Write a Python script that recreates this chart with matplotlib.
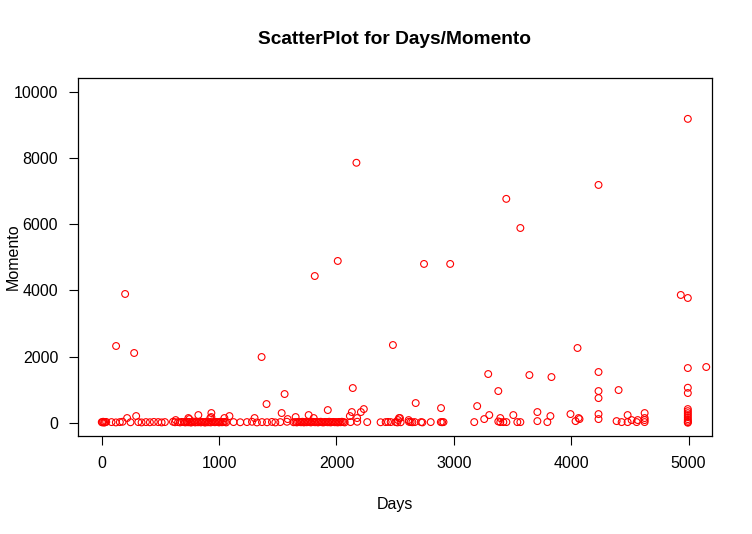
import matplotlib
matplotlib.use("Agg")
import matplotlib.pyplot as plt

# ---- data ----
base_days = [0, 5, 12, 20, 28, 38, 83, 120, 154, 177, 245, 311,
             339, 376, 410, 444, 481, 510, 538, 607, 624, 650, 667, 681,
             700, 712, 724, 736, 748, 760, 772, 784, 796, 808, 820, 832,
             844, 856, 868, 880, 892, 904, 916, 928, 940, 952, 964, 976,
             988, 1000, 1012, 1024, 1036, 1048, 1060, 1123, 1180, 1237, 1280, 1322,
             1365, 1408, 1450, 1479, 1521, 1578, 1635, 1650, 1662, 1674, 1686, 1698,
             1710, 1722, 1734, 1746, 1758, 1770, 1782, 1794, 1806, 1818, 1830, 1842,
             1854, 1866, 1878, 1890, 1902, 1914, 1926, 1938, 1950, 1962, 1974, 1986,
             1998, 2010, 2022, 2034, 2046, 2058, 2070, 2120, 2177, 2262, 2376, 2419,
             2439, 2462, 2504, 2519, 2547, 2618, 2632, 2647, 2667, 2721, 2732, 2803,
             2889, 2900, 2912, 3174, 3379, 3396, 3422, 3448, 3541, 3567, 3712, 3797,
             4037, 4387, 4430, 4481, 4558, 4626, 4994, 4994]
base_mom = [20, 10, 30, 5, 15, 25, 20, 10, 20, 30, 15, 20,
            10, 20, 15, 25, 20, 10, 20, 30, 15, 20, 10, 25,
            20, 10, 30, 15, 25, 5, 20, 35, 10, 20, 15, 30,
            10, 25, 20, 5, 30, 15, 20, 10, 40, 20, 15, 25,
            20, 10, 30, 15, 20, 25, 10, 20, 15, 20, 30, 10,
            20, 15, 25, 10, 20, 30, 15, 20, 10, 25, 20, 15,
            30, 10, 20, 15, 25, 20, 10, 30, 20, 15, 25, 10,
            20, 30, 15, 10, 25, 20, 15, 30, 10, 20, 25, 15,
            20, 10, 25, 15, 30, 20, 10, 20, 30, 20, 15, 20,
            25, 20, 20, 10, 15, 30, 20, 15, 20, 20, 10, 20,
            20, 15, 20, 20, 40, 20, 20, 20, 20, 20, 50, 20,
            50, 50, 20, 20, 20, 20, 20, 0]

high_days = [199, 122, 276, 1362, 1815, 2011, 2170, 2746, 2969, 3447,
             3567, 4233, 4994, 4934, 4994, 2481, 4054, 5151, 4994, 4233,
             3293, 3644, 3832, 4994, 4994, 4233, 4233, 4404, 3379, 1558]
high_mom = [3888, 2317, 2106, 1985, 4430, 4885, 7850, 4795, 4795, 6760,
            5880, 7180, 9175, 3858, 3767, 2347, 2257, 1683, 1652, 1532,
            1471, 1440, 1380, 1057, 897, 957, 745, 987, 957, 867]

mid_days = [2139, 1404, 2675, 3199, 2891, 1926, 2233, 2208, 2131, 2114,
            2176, 1533, 1763, 1806, 1652, 1584, 1088, 934, 934, 925,
            823, 1302, 1045, 293, 216, 746, 630, 738, 3302, 3259,
            3396, 3507, 3712, 3823, 3994, 4063, 4071, 4233, 4233, 4481,
            4515, 4567, 4626, 4626, 4626, 2524, 2541, 2615, 2533, 4994,
            4994, 4994, 4994, 4994, 4994, 4994]
mid_mom = [1048, 565, 595, 503, 443, 383, 413, 323, 323, 202,
           142, 293, 232, 142, 172, 111, 202, 293, 172, 142,
           232, 142, 142, 202, 142, 111, 81, 142, 232, 111,
           142, 232, 323, 202, 262, 142, 111, 262, 111, 232,
           81, 81, 293, 142, 81, 81, 142, 81, 142, 413,
           350, 290, 230, 170, 110, 60]

x_ticks = [0, 1000, 2000, 3000, 4000, 5000]
y_ticks = [0, 2000, 4000, 6000, 8000, 10000]

days = base_days + mid_days + high_days
momento = base_mom + mid_mom + high_mom

plt.rcParams['font.family'] = ['Liberation Sans', 'DejaVu Sans']

W, H = 752, 534
fig = plt.figure(figsize=(W / 100, H / 100), dpi=100)
L, R, T, B = 78.3, 712, 78.3, 436
ax = fig.add_axes([L / W, 1 - B / H, (R - L) / W, (B - T) / H])

ax.scatter(days, momento, s=24, facecolors='none', edgecolors='#ff0000',
           linewidths=0.8, zorder=3)

ax.set_xlim(-200, 5200)
ax.set_ylim(-400, 10400)
ax.set_xticks(x_ticks)
ax.set_yticks(y_ticks)
ax.set_xticklabels([str(v) for v in x_ticks])
ax.set_yticklabels([str(v) for v in y_ticks])
ax.tick_params(direction='out', length=6.5, width=0.8, labelsize=11.5,
               colors='black')
ax.tick_params(axis='x', pad=8)
ax.tick_params(axis='y', pad=8)
for sp in ax.spines.values():
    sp.set_linewidth(0.9)
    sp.set_color('black')

fig.text(395 / W, 1 - 40 / H, 'ScatterPlot for Days/Momento', ha='center',
         va='center', fontsize=13.8, fontweight='bold')
fig.text(395 / W, 1 - 504 / H, 'Days', ha='center', va='center', fontsize=11.5)
fig.text(13 / W, 1 - 257 / H, 'Momento', ha='center', va='center',
         rotation=90, fontsize=11.5)

fig.savefig('out.png', dpi=100, facecolor='white')
